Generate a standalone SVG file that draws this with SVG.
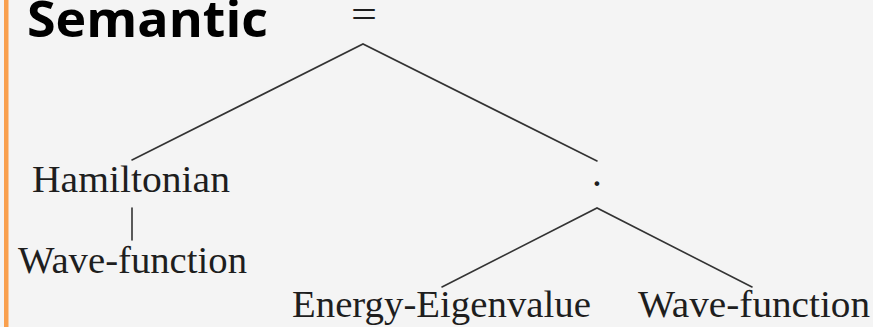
<svg xmlns="http://www.w3.org/2000/svg" width="873" height="327" viewBox="0 0 873 327">
<style>
.lbl{font-family:"Liberation Serif","DejaVu Serif",serif;font-size:38px;fill:#1e1e1e}
.op{font-family:"Liberation Serif","DejaVu Serif",serif;font-size:40px;fill:#1e1e1e;text-anchor:middle}
.edge{stroke:#333;stroke-width:1.6;fill:none;stroke-linecap:round}
.title{font-family:"Open Sans","Liberation Sans",sans-serif;font-weight:bold;font-size:51px;fill:#000}
</style>
<rect x="0" y="0" width="873" height="327" fill="#F4F4F4"/>
<rect x="4" y="0" width="4.5" height="327" fill="#F9A04E"/>
<text class="title" x="27" y="37" textLength="241" lengthAdjust="spacingAndGlyphs">Semantic</text>
<g id="connectors">
<polyline class="edge" points="132,160 363,44 597,161"/>
<line class="edge" x1="132" y1="208" x2="132" y2="240"/>
<polyline class="edge" points="442,287 597,208 752,287"/>
</g>
<g id="n-equals"><text class="op" x="364" y="28" textLength="26" lengthAdjust="spacingAndGlyphs">=</text></g>
<g id="n-hamiltonian"><text class="lbl" x="32" y="192" textLength="198" lengthAdjust="spacingAndGlyphs">Hamiltonian</text></g>
<g id="n-wave1"><text class="lbl" x="18" y="273" textLength="229" lengthAdjust="spacingAndGlyphs">Wave-function</text></g>
<g id="n-dot"><text class="op" x="597" y="197">·</text></g>
<g id="n-energy"><text class="lbl" x="292" y="317" textLength="299" lengthAdjust="spacingAndGlyphs">Energy-Eigenvalue</text></g>
<g id="n-wave2"><text class="lbl" x="638" y="317" textLength="232" lengthAdjust="spacingAndGlyphs">Wave-function</text></g>
</svg>
